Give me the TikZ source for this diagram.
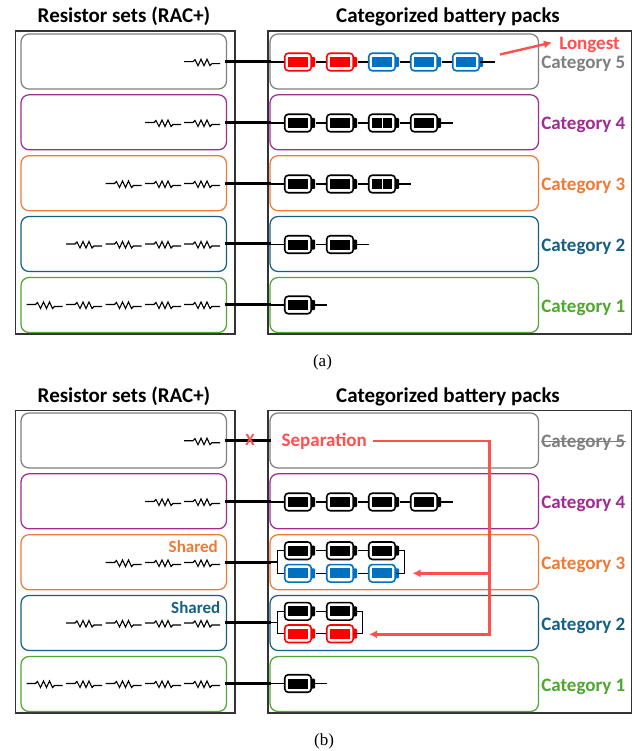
\documentclass[tikz,border=0pt]{standalone}
\usepackage{fontspec}
\setmainfont{Carlito}
\newfontfamily\capfont{Liberation Serif}
\usetikzlibrary{arrows.meta,calc}
\definecolor{cgrey}{HTML}{7F7F7F}
\definecolor{cpurple}{HTML}{A02B93}
\definecolor{corange}{HTML}{EE7A36}
\definecolor{cteal}{HTML}{156082}
\definecolor{cgreen}{HTML}{4EA72E}
\definecolor{cred}{HTML}{FF5050}
\definecolor{cblue}{HTML}{0070C0}
\definecolor{pure}{HTML}{FF0000}
\tikzset{
  x=1pt,y=-1pt,
  panel/.style={draw=black!80,line width=1.5pt,inner sep=0pt,anchor=north west},
  rowbox/.style={draw=#1,line width=1.25pt,rounded corners=8pt,minimum height=55pt,inner sep=0pt},
  lbox/.style={rowbox=#1,minimum width=205.5pt},
  rbox/.style={rowbox=#1,minimum width=268.5pt},
  title/.style={font=\fontsize{21}{22}\selectfont\bfseries,anchor=base},
  catlabel/.style={font=\fontsize{19}{20}\selectfont\bfseries,anchor=base east,text=#1,inner sep=0pt},
  extra/.style={font=\fontsize{19}{20}\selectfont\bfseries,text=cred,inner sep=0pt},
  sharedlabel/.style={font=\fontsize{17}{18}\selectfont\bfseries,anchor=base east,text=#1,inner sep=0pt},
  caplabel/.style={font=\capfont\fontsize{17}{18}\selectfont,anchor=base},
  thick wire/.style={line width=3pt,black},
  thin wire/.style={line width=1.3pt,black},
  redline/.style={draw=cred,line width=2.4pt},
  redarrow/.style={redline,-{Latex[length=8pt,width=8pt]}},
}
% \batt{name}{left x}{centre y}{colour}{split 0/1}
\newcommand{\batt}[5]{%
  \fill[#4,rounded corners=1pt] (#2+25,#3-5) rectangle (#2+31,#3+5);
  \node[draw=#4,line width=1.6pt,fill=white,rounded corners=3.5pt,minimum width=26.5pt,minimum height=17.5pt,inner sep=0pt] (#1) at (#2+14,#3) {};
  \fill[#4] (#2+3.8,#3-5) rectangle (#2+24.2,#3+5);
  \ifnum#5=1 \draw[white,line width=1.3pt] (#2+14.2,#3-5) -- (#2+14.2,#3+5);\fi
}
% \res{name}{left x}{y}
\newcommand{\res}[3]{%
  \coordinate (#1) at (#2,#3);
  \draw[line width=1.1pt,line join=miter] (#1) -- ++(9,0) -- ++(2,-2) -- ++(3,6) -- ++(3,-6.5) -- ++(3,6.5) -- ++(3,-6.5) -- ++(3,6.5) -- ++(2,-2) -- ++(8,0);
}
\begin{document}
\begin{tikzpicture}
\useasboundingbox (0,0) rectangle (634,751);
\fill[white] (0,0) rectangle (634,751);
% ===== panel (a) =====
\node[title] (ta) at (124,23) {Resistor sets (RAC+)};
\node[title] (tb) at (448,23) {Categorized battery packs};
\node[panel,minimum width=219.5pt,minimum height=302.5pt] (pl) at (14.5,30.5) {};
\node[panel,minimum width=363.5pt,minimum height=302.5pt] (pr) at (267,30.5) {};
\node[lbox=cgrey]   (l5) at (123.75,61.5) {};
\node[lbox=cpurple] (l4) at (123.75,122.3) {};
\node[lbox=corange] (l3) at (123.75,183.2) {};
\node[lbox=cteal]   (l2) at (123.75,244) {};
\node[lbox=cgreen]  (l1) at (123.75,305) {};
\node[rbox=cgrey]   (r5) at (404.25,61.5) {};
\node[rbox=cpurple] (r4) at (404.25,122.3) {};
\node[rbox=corange] (r3) at (404.25,183.2) {};
\node[rbox=cteal]   (r2) at (404.25,244) {};
\node[rbox=cgreen]  (r1) at (404.25,305) {};
\node[catlabel=cgrey]   (c5) at (625.5,68.5) {Category 5};
\node[catlabel=cpurple] (c4) at (625.5,129.5) {Category 4};
\node[catlabel=corange] (c3) at (625.5,190.5) {Category 3};
\node[catlabel=cteal]   (c2) at (625.5,251.5) {Category 2};
\node[catlabel=cgreen]  (c1) at (625.5,312.5) {Category 1};
\node[extra,anchor=base] (lg) at (589.5,49.5) {Longest};
\coordinate (lga) at (500,54.5);
\coordinate (lgb) at (552,42.5);
\draw[redarrow] (lga) -- (lgb);
% resistors (a)
\res{a51}{184}{61.7}
\res{a41}{145}{122.5}\res{a42}{184}{122.5}
\res{a31}{105.5}{183.5}\res{a32}{145}{183.5}\res{a33}{184}{183.5}
\res{a21}{66}{244}\res{a22}{105.5}{244}\res{a23}{145}{244}\res{a24}{184}{244}
\res{a11}{26.5}{304.5}\res{a12}{66}{304.5}\res{a13}{105.5}{304.5}\res{a14}{145}{304.5}\res{a15}{184}{304.5}
% main wires (a)
\foreach \y in {61.3,122.2,183.1,243.8,304.5}{\draw[thick wire] (225,\y) -- (271,\y);}
% batteries (a)
\batt{b51}{284}{62}{pure}{0}\batt{b52}{326}{62}{pure}{0}\batt{b53}{368}{62}{cblue}{0}\batt{b54}{410}{62}{cblue}{0}\batt{b55}{452}{62}{cblue}{0}
\coordinate (e5) at (495,62);\coordinate (s5) at (271,62);
\draw[thin wire] (s5) -- (b51) (b51.east) ++(3.5,0) -- (b52) (b52.east) ++(3.5,0) -- (b53) (b53.east) ++(3.5,0) -- (b54) (b54.east) ++(3.5,0) -- (b55) (b55.east) -- (e5);
\batt{b41}{284}{123}{black}{0}\batt{b42}{326}{123}{black}{0}\batt{b43}{368}{123}{black}{1}\batt{b44}{410}{123}{black}{0}
\coordinate (e4) at (453,123);\coordinate (s4) at (271,123);
\draw[thin wire] (s4) -- (b41) (b41.east) ++(3.5,0) -- (b42) (b42.east) ++(3.5,0) -- (b43) (b43.east) ++(3.5,0) -- (b44) (b44.east) -- (e4);
\batt{b31}{284}{184}{black}{0}\batt{b32}{326}{184}{black}{0}\batt{b33}{368}{184}{black}{1}
\coordinate (e3) at (411,184);\coordinate (s3) at (271,184);
\draw[thin wire] (s3) -- (b31) (b31.east) ++(3.5,0) -- (b32) (b32.east) ++(3.5,0) -- (b33) (b33.east) -- (e3);
\batt{b21}{284}{244.5}{black}{0}\batt{b22}{326}{244.5}{black}{0}
\coordinate (e2) at (369,244.5);\coordinate (s2) at (271,244.5);
\draw[thin wire] (s2) -- (b21) (b21.east) ++(3.5,0) -- (b22) (b22.east) -- (e2);
\batt{b11}{284}{305}{black}{0}
\coordinate (e1) at (327,305);\coordinate (s1) at (271,305);
\draw[thin wire] (s1) -- (b11) (b11.east) -- (e1);
\node[caplabel] (capa) at (322.5,366) {(a)};
% ===== panel (b) =====
\begin{scope}[shift={(0,379)}]
\node[title] (tc) at (124,23) {Resistor sets (RAC+)};
\node[title] (td) at (448,23) {Categorized battery packs};
\node[panel,minimum width=219.5pt,minimum height=302.5pt] (ql) at (14.5,30.5) {};
\node[panel,minimum width=363.5pt,minimum height=302.5pt] (qr) at (267,30.5) {};
\node[lbox=cgrey]   (m5) at (123.75,61.5) {};
\node[lbox=cpurple] (m4) at (123.75,122.3) {};
\node[lbox=corange] (m3) at (123.75,183.2) {};
\node[lbox=cteal]   (m2) at (123.75,244) {};
\node[lbox=cgreen]  (m1) at (123.75,305) {};
\node[rbox=cgrey]   (n5) at (404.25,61.5) {};
\node[rbox=cpurple] (n4) at (404.25,122.3) {};
\node[rbox=corange] (n3) at (404.25,183.2) {};
\node[rbox=cteal]   (n2) at (404.25,244) {};
\node[rbox=cgreen]  (n1) at (404.25,305) {};
\node[catlabel=cgrey]   (d5) at (625.5,68.5) {Category 5};
\draw[cgrey,line width=1.2pt] ($(d5.west)+(0,-1)$) -- ($(d5.east)+(0,-1)$);
\node[catlabel=cpurple] (d4) at (625.5,129.5) {Category 4};
\node[catlabel=corange] (d3) at (625.5,190.5) {Category 3};
\node[catlabel=cteal]   (d2) at (625.5,251.5) {Category 2};
\node[catlabel=cgreen]  (d1) at (625.5,312.5) {Category 1};
\node[sharedlabel=corange] (sh3) at (218,173) {Shared};
\node[sharedlabel=cteal] (sh2) at (220.5,234) {Shared};
\res{f51}{184}{61.7}
\res{f41}{145}{122.5}\res{f42}{184}{122.5}
\res{f31}{105.5}{183.5}\res{f32}{145}{183.5}\res{f33}{184}{183.5}
\res{f21}{66}{244}\res{f22}{105.5}{244}\res{f23}{145}{244}\res{f24}{184}{244}
\res{f11}{26.5}{304.5}\res{f12}{66}{304.5}\res{f13}{105.5}{304.5}\res{f14}{145}{304.5}\res{f15}{184}{304.5}
\foreach \y in {61.3,122.2,183.1,243.8,304.5}{\draw[thick wire] (225,\y) -- (271,\y);}
\node[extra,font=\fontsize{17}{18}\selectfont\bfseries] (xm) at (250,61) {X};
\node[extra,anchor=base west] (sep) at (281.5,67) {Separation};
% batteries (b)
\batt{g41}{284}{123}{black}{0}\batt{g42}{326}{123}{black}{0}\batt{g43}{368}{123}{black}{0}\batt{g44}{410}{123}{black}{0}
\coordinate (ge4) at (453,123);\coordinate (gs4) at (271,123);
\draw[thin wire] (gs4) -- (g41) (g41.east) ++(3.5,0) -- (g42) (g42.east) ++(3.5,0) -- (g43) (g43.east) ++(3.5,0) -- (g44) (g44.east) -- (ge4);
\batt{g31}{284}{171.7}{black}{0}\batt{g32}{326}{171.7}{black}{0}\batt{g33}{368}{171.7}{black}{0}
\batt{h31}{284}{194.3}{cblue}{0}\batt{h32}{326}{194.3}{cblue}{0}\batt{h33}{368}{194.3}{cblue}{0}
\coordinate (gs3) at (271,183);
\draw[thin wire] (gs3) -- (277.3,183);
\draw[thin wire] (g31.west) -- (277.3,171.7) -- (277.3,194.3) -- (h31.west);
\draw[thin wire] (g31.east) ++(3.5,0) -- (g32) (g32.east) ++(3.5,0) -- (g33);
\draw[thin wire] (h31.east) ++(3.5,0) -- (h32) (h32.east) ++(3.5,0) -- (h33);
\draw[thin wire] (g33.east) -- (404.3,171.7) -- (404.3,194.3) -- (h33.east);
\batt{g21}{284}{232.3}{black}{0}\batt{g22}{326}{232.3}{black}{0}
\batt{h21}{284}{254.7}{pure}{0}\batt{h22}{326}{254.7}{pure}{0}
\coordinate (gs2) at (271,243.5);
\draw[thin wire] (gs2) -- (277.3,243.5);
\draw[thin wire] (g21.west) -- (277.3,232.3) -- (277.3,254.7) -- (h21.west);
\draw[thin wire] (g21.east) ++(3.5,0) -- (g22);
\draw[thin wire] (h21.east) ++(3.5,0) -- (h22);
\draw[thin wire] (g22.east) -- (362.3,232.3) -- (362.3,254.7) -- (h22.east);
\batt{g11}{284}{304.5}{black}{0}
\coordinate (ge1) at (327,304.5);\coordinate (gs1) at (271,304.5);
\draw[thin wire] (gs1) -- (g11) (g11.east) -- (ge1);
% red routes
\coordinate (ra) at (373,61.7);\coordinate (rb) at (489.5,61.7);\coordinate (rc) at (489.5,194.3);\coordinate (rd) at (489.5,255.3);
\coordinate (re) at (412.5,194.3);\coordinate (rf) at (369,255.3);
\draw[redarrow] (rc) -- (re);
\draw[redarrow] (ra) -- (rb) -- (rd) -- (rf);
\end{scope}
\node[caplabel] (capb) at (324,745) {(b)};
\end{tikzpicture}
\end{document}
